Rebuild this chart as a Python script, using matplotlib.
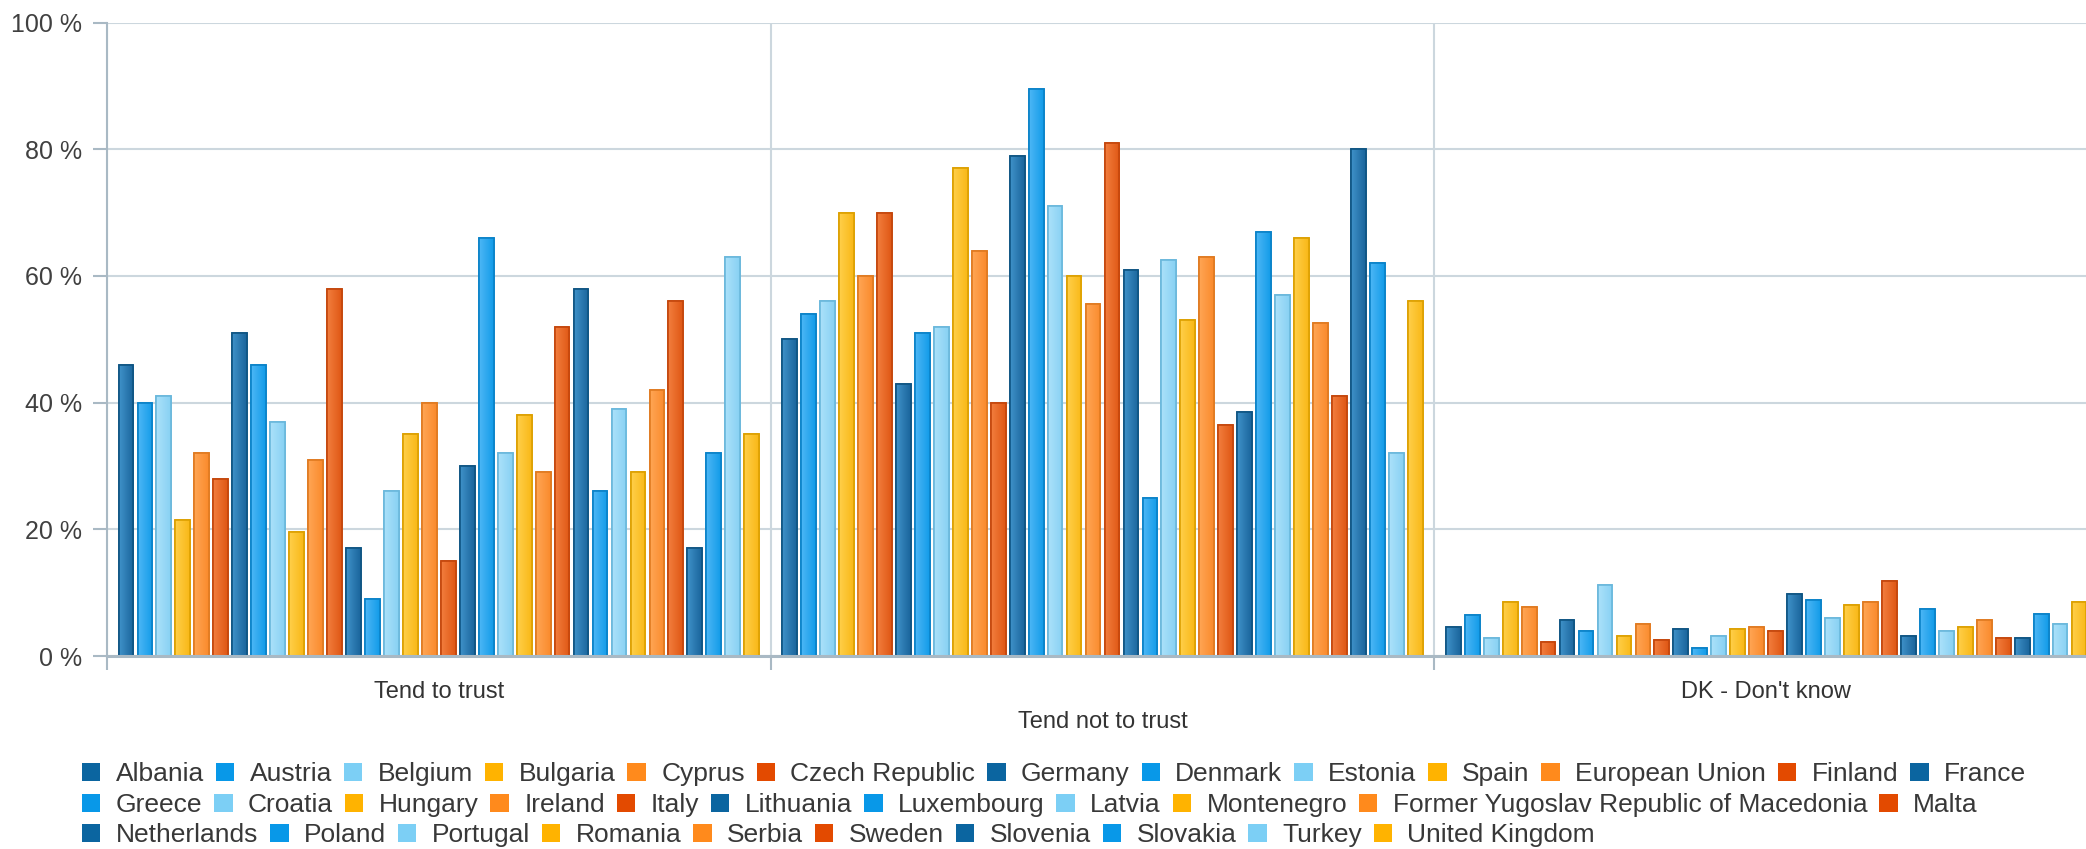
import matplotlib.pyplot as plt
import numpy as np
from matplotlib.patches import Patch
from matplotlib import transforms

plt.rcParams['font.family'] = ['Liberation Sans', 'DejaVu Sans']

groups = ['Tend to trust', 'Tend not to trust', "DK - Don't know"]

countries = ['Albania', 'Austria', 'Belgium', 'Bulgaria', 'Cyprus', 'Czech Republic',
             'Germany', 'Denmark', 'Estonia', 'Spain', 'European Union', 'Finland',
             'France', 'Greece', 'Croatia', 'Hungary', 'Ireland', 'Italy',
             'Lithuania', 'Luxembourg', 'Latvia', 'Montenegro',
             'Former Yugoslav Republic of Macedonia', 'Malta',
             'Netherlands', 'Poland', 'Portugal', 'Romania', 'Serbia', 'Sweden',
             'Slovenia', 'Slovakia', 'Turkey', 'United Kingdom']

trust = [46, 40, 41, 21.5, 32, 28,
         51, 46, 37, 19.5, 31, 58,
         17, 9, 26, 35, 40, 15,
         30, 66, 32, 38, 29, 52,
         58, 26, 39, 29, 42, 56,
         17, 32, 63, 35]

not_trust = [50, 54, 56, 70, 60, 70,
             43, 51, 52, 77, 64, 40,
             79, 89.5, 71, 60, 55.5, 81,
             61, 25, 62.5, 53, 63, 36.5,
             38.5, 67, 57, 66, 52.5, 41,
             80, 62, 32, 56]

dont_know = [4.6, 6.4, 2.9, 8.5, 7.7, 2.2,
             5.7, 4.0, 11.2, 3.2, 5.0, 2.5,
             4.3, 1.2, 3.2, 4.3, 4.6, 4.0,
             9.8, 8.8, 6.0, 8.1, 8.5, 11.9,
             3.2, 7.4, 3.9, 4.6, 5.7, 2.9,
             2.9, 6.7, 5.0, 8.5]

# six colours repeat across the countries: (legend, gradient light, gradient dark, edge)
palette = [
    ('#0b65a0', '#3f91c8', '#1a659c', '#0f5583'),
    ('#0898e8', '#4db7f6', '#129be8', '#0a82c8'),
    ('#7ccff5', '#abe1fa', '#88d1f3', '#6ab8dc'),
    ('#ffb300', '#ffcf4a', '#f9b817', '#dda000'),
    ('#ff8a1c', '#ffa655', '#fa8a2c', '#e07a20'),
    ('#e34a00', '#f27e3e', '#df5714', '#c4460c'),
]

values = np.array([trust, not_trust, dont_know]).T  # country x group
n = len(countries)
slot = n + 1
group_x = np.arange(len(groups)) * slot

fig = plt.figure(figsize=(20.86, 8.49), dpi=100)
ax = fig.add_axes([107 / 2086, 193 / 849, 1991 / 2086, 633.5 / 849])

grid_c = '#ccd7de'
axis_c = '#a9b9c4'

for i, name in enumerate(countries):
    leg, light, dark, edge = palette[i % 6]
    bars = ax.bar(group_x + 1 + i, values[i], width=0.78, color=dark,
                  edgecolor=edge, linewidth=1.2, zorder=3, label=name)
    # horizontal shading inside every bar
    grad = np.linspace(0, 1, 32)[None, :]
    cmap = plt.matplotlib.colors.LinearSegmentedColormap.from_list(
        'b%d' % i, [light, dark])
    for r in bars:
        x0, w, h = r.get_x(), r.get_width(), r.get_height()
        im = ax.imshow(grad, extent=(x0, x0 + w, 0, h), aspect='auto',
                       cmap=cmap, zorder=3.5, interpolation='bilinear')
        im.set_clip_path(r)
        ax.add_patch(plt.Rectangle((x0, 0), w, h, fill=False, edgecolor=edge,
                                   linewidth=1.2, zorder=4))

ax.set_xlim(0, slot * len(groups))
ax.set_ylim(0, 100)

ax.set_yticks(np.arange(0, 101, 20))
ax.set_yticklabels(['%d %%' % v for v in range(0, 101, 20)])
ax.tick_params(axis='y', length=10, width=1.5, color=axis_c, pad=8,
               labelsize=18, labelcolor='#404040')
ax.set_xticks(group_x.tolist() + [slot * len(groups)])
ax.set_xticklabels([])
ax.tick_params(axis='x', length=10, width=1.5, color=axis_c)

ax.grid(True, color=grid_c, linewidth=1.5, zorder=0)
for s in ['top', 'right']:
    ax.spines[s].set_visible(False)
ax.spines['left'].set_color(axis_c)
ax.spines['left'].set_linewidth(1.5)
ax.spines['bottom'].set_color(axis_c)
ax.spines['bottom'].set_linewidth(2.2)
ax.spines['bottom'].set_zorder(5)

# category names, alternating between two rows
trans = transforms.blended_transform_factory(ax.transData, fig.transFigure)
for g, label in enumerate(groups):
    y = 1 - (692 if g % 2 == 0 else 722) / 849
    ax.text(group_x[g] + slot / 2, y, label, transform=trans, ha='center',
            va='center', fontsize=17, color='#333333')

# legend laid out as three flowing rows
rows = [countries[0:13], countries[13:24], countries[24:]]
row_y = [774, 805, 835]
start = 0
for row, y in zip(rows, row_y):
    handles = [Patch(facecolor=palette[(start + k) % 6][0], edgecolor='none')
               for k in range(len(row))]
    fig.legend(handles, row, loc='center left',
               bbox_to_anchor=(82 / 2086, 1 - y / 849), ncol=len(row),
               frameon=False, fontsize=19, handlelength=0.7, handleheight=0.7,
               handletextpad=0.58, columnspacing=0.45, borderpad=0,
               borderaxespad=0, labelcolor='#383838')
    start += len(row)

fig.savefig('out.png', dpi=100)
